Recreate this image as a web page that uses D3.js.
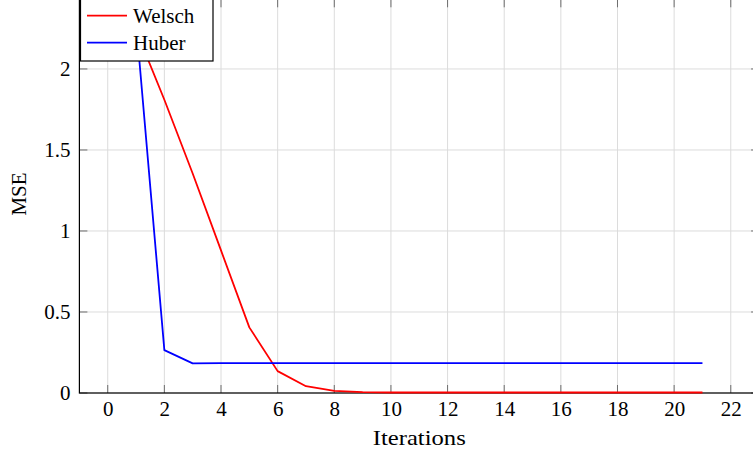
<!DOCTYPE html>
<html>
<head>
<meta charset="utf-8">
<script src="https://cdn.jsdelivr.net/npm/d3@7"></script>
<style>
  html, body { margin: 0; padding: 0; background: #fff; }
  svg { display: block; }
  text { font-family: "Liberation Serif", "DejaVu Serif", serif; fill: #000; }
</style>
</head>
<body>
<svg id="chart" width="753" height="452"></svg>
<script>
// ---- data ----
const iterations = [1, 2, 3, 4, 5, 6, 7, 8, 9, 10, 11, 12, 13, 14, 15, 16, 17, 18, 19, 20, 21];
const welsch = [2.24, 1.81, 1.355, 0.88, 0.405, 0.135, 0.042, 0.013, 0.005, 0.003, 0.003, 0.003, 0.003, 0.003, 0.003, 0.003, 0.003, 0.003, 0.003, 0.003, 0.003];
const huber  = [2.29, 0.265, 0.183, 0.184, 0.184, 0.184, 0.184, 0.184, 0.184, 0.184, 0.184, 0.184, 0.184, 0.184, 0.184, 0.184, 0.184, 0.184, 0.184, 0.184, 0.184];
const xTicks = [0, 2, 4, 6, 8, 10, 12, 14, 16, 18, 20, 22];
const yTicks = [0, 0.5, 1, 1.5, 2];
const yTickLabels = ["0", "0.5", "1", "1.5", "2"];
const seriesNames = ["Welsch", "Huber"];
const seriesColors = ["#ff0000", "#0000ff"];

(function () {
const svg = d3.select("#chart");
const pL = 79.4, pR = 759.1, pT = -0.7, pB = 393;
const x = d3.scaleLinear().domain([-1, 23]).range([pL, pR]);
const y = d3.scaleLinear().domain([0, 2.43]).range([pB, pT]);
const FS = 21;
const FF = "Liberation Serif";

// grid
const grid = svg.append("g");
grid.selectAll("line.vx").data(xTicks).join("line")
  .attr("x1", d => x(d)).attr("x2", d => x(d))
  .attr("y1", pT).attr("y2", pB)
  .attr("stroke", "#dcdcdc").attr("stroke-width", 1);
grid.selectAll("line.hy").data(yTicks).join("line")
  .attr("x1", pL).attr("x2", pR)
  .attr("y1", d => y(d)).attr("y2", d => y(d))
  .attr("stroke", "#dcdcdc").attr("stroke-width", 1);

// ticks (inside, all four sides)
const tl = 8, tickColor = "#6e6e6e";
const ticks = svg.append("g").attr("stroke", tickColor).attr("stroke-width", 1);
xTicks.forEach(d => {
  ticks.append("line").attr("x1", x(d)).attr("x2", x(d)).attr("y1", pB).attr("y2", pB - tl);
  ticks.append("line").attr("x1", x(d)).attr("x2", x(d)).attr("y1", pT).attr("y2", pT + tl);
});
yTicks.forEach(d => {
  ticks.append("line").attr("x1", pL).attr("x2", pL + tl).attr("y1", y(d)).attr("y2", y(d));
  ticks.append("line").attr("x1", pR).attr("x2", pR - tl).attr("y1", y(d)).attr("y2", y(d));
});

// axis frame
svg.append("rect").attr("x", pL).attr("y", pT)
  .attr("width", pR - pL).attr("height", pB - pT)
  .attr("fill", "none").attr("stroke", "#000").attr("stroke-width", 1.2);

// tick labels via axes (domain and tick lines hidden)
const xAxis = svg.append("g").attr("transform", `translate(0,${pB})`)
  .call(d3.axisBottom(x).tickValues(xTicks).tickSize(0).tickPadding(0).tickFormat(d3.format("d")));
xAxis.select(".domain").remove();
xAxis.selectAll("text").attr("font-size", FS).attr("font-family", FF)
  .attr("dy", null).attr("y", 23);

const yAxis = svg.append("g").attr("transform", `translate(${pL},0)`)
  .call(d3.axisLeft(y).tickValues(yTicks).tickSize(0).tickPadding(0)
    .tickFormat((d, i) => yTickLabels[i]));
yAxis.select(".domain").remove();
yAxis.selectAll("text").attr("font-size", FS).attr("font-family", FF)
  .attr("x", -9).attr("dy", "0.33em");

// axis titles
svg.append("text").attr("x", (pL + pR) / 2).attr("y", 445)
  .attr("text-anchor", "middle").attr("font-size", FS)
  .attr("textLength", 93).attr("lengthAdjust", "spacingAndGlyphs").text("Iterations");
svg.append("text").attr("transform", "translate(26,194) rotate(-90)")
  .attr("text-anchor", "middle").attr("font-size", FS).text("MSE");

// clip
svg.append("clipPath").attr("id", "clip").append("rect")
  .attr("x", pL).attr("y", pT).attr("width", pR - pL).attr("height", pB - pT + 2);

const line = d3.line().x((d, i) => x(iterations[i])).y(d => y(d));
const plot = svg.append("g").attr("clip-path", "url(#clip)");
[welsch, huber].forEach((s, k) => {
  plot.append("path").datum(s).attr("d", line)
    .attr("fill", "none").attr("stroke", seriesColors[k])
    .attr("stroke-width", 1.8).attr("stroke-linejoin", "round");
});

// legend
const lg = svg.append("g");
lg.append("rect").attr("x", 80.5).attr("y", -10).attr("width", 132.5).attr("height", 71)
  .attr("fill", "#fff").attr("stroke", "#000").attr("stroke-width", 1.2);
const rowsY = [15.7, 42.7];
seriesNames.forEach((n, k) => {
  lg.append("line").attr("x1", 87).attr("x2", 127).attr("y1", rowsY[k]).attr("y2", rowsY[k])
    .attr("stroke", seriesColors[k]).attr("stroke-width", 1.8);
  lg.append("text").attr("x", 133).attr("y", rowsY[k] + 7).attr("font-size", FS).text(n);
});
})();
</script>
</body>
</html>
